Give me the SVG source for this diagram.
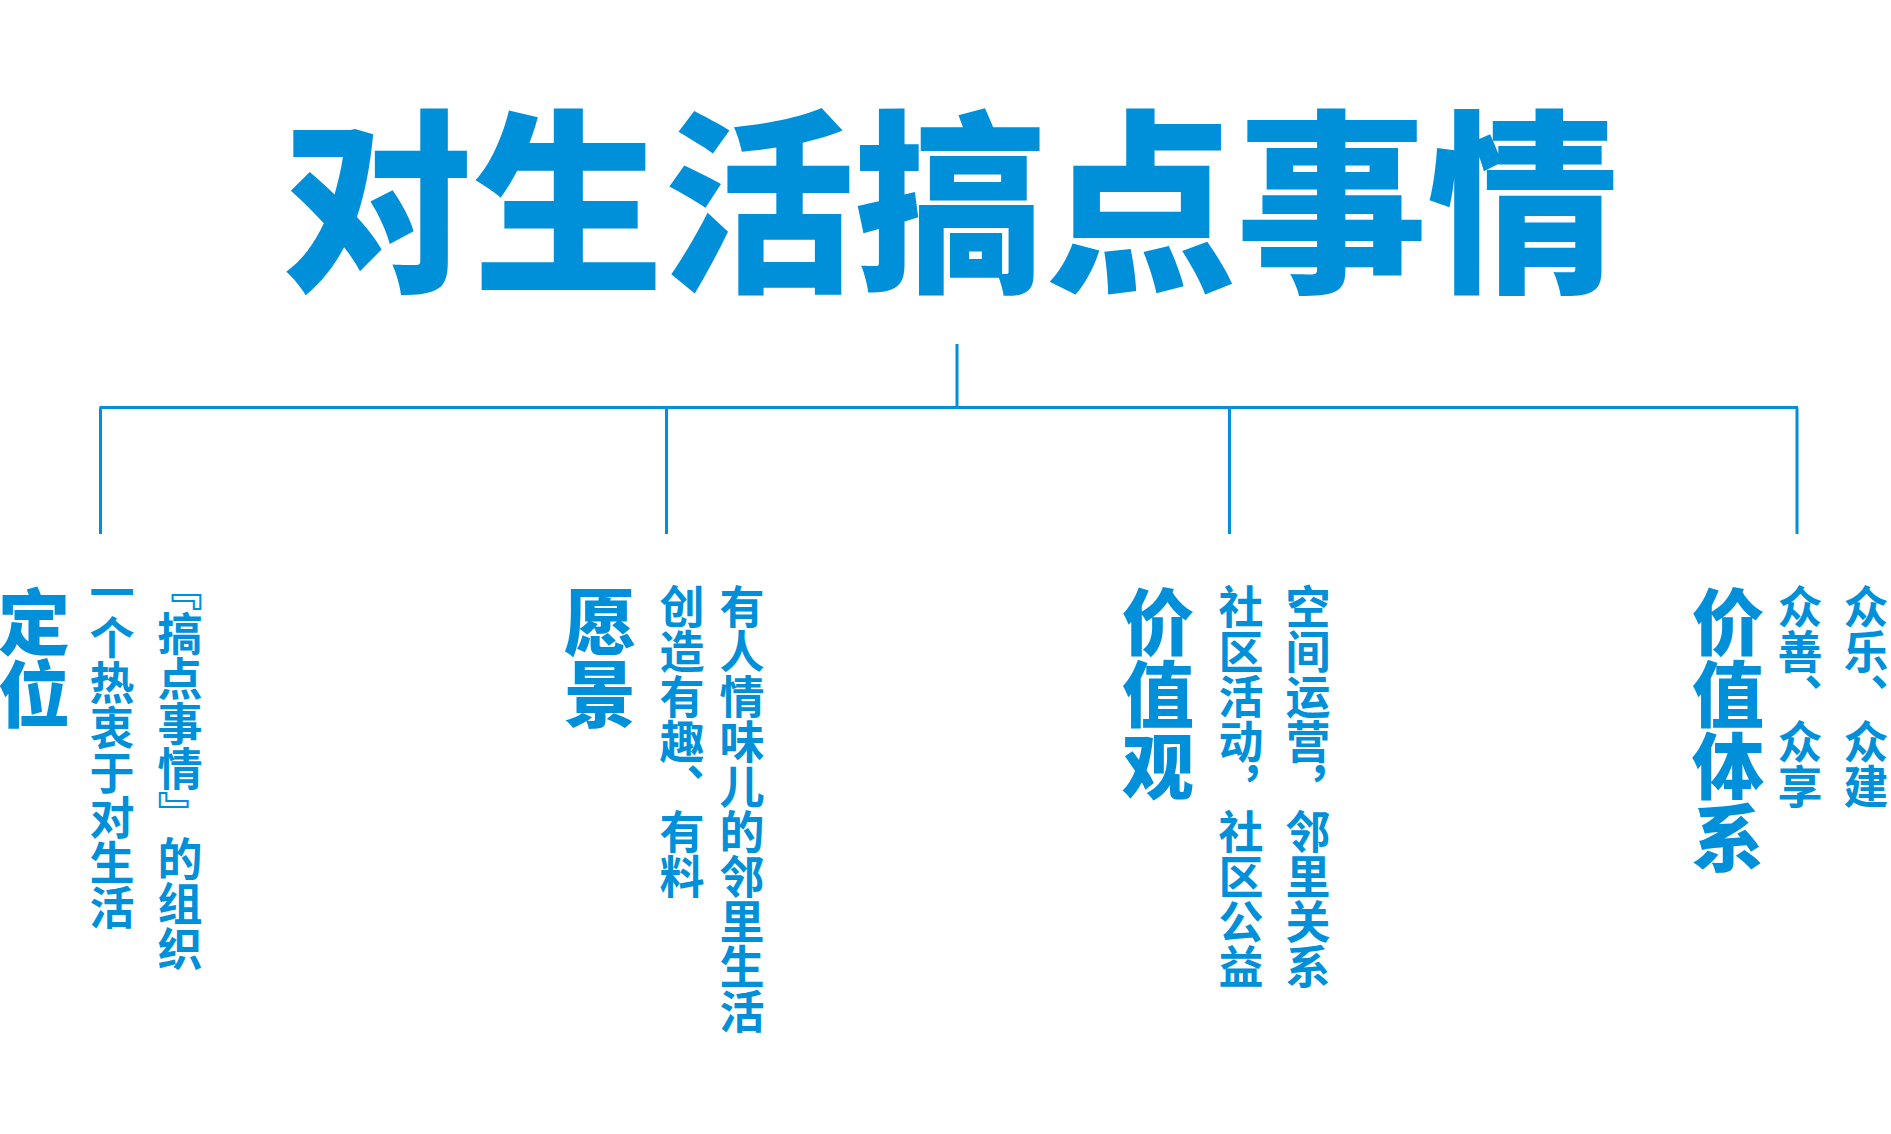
<svg xmlns="http://www.w3.org/2000/svg" width="1891" height="1134" viewBox="0 0 1891 1134">
<style>
.t{fill:#0090da;font-family:"Noto Sans CJK SC","Noto Sans CJK JP",sans-serif}
.h{font-size:72px;font-weight:900}
.b{font-size:45px;font-weight:700}
.v{writing-mode:vertical-rl}
.ln{stroke:#0090da;stroke-width:3;fill:none}
</style>
<rect width="1891" height="1134" fill="#ffffff"/>
<g id="title">
<text class="t" font-size="191" font-weight="900" text-anchor="middle" transform="translate(950,276) scale(1,1.025)">对生活搞点事情</text>
</g>
<g id="connectors">
<path class="ln" d="M957 344V407.5M99.5 407.5H1798M100.5 407.5V534M666.5 407.5V534M1229.5 407.5V534M1797 407.5V534"/>
</g>
<g id="node-dingwei">
<text class="t h v" x="34" y="586">定位</text>
<text class="t b v" x="112" y="570">一个热衷于对生活</text>
<text class="t b v" x="180" y="566">『搞点事情』的组织</text>
</g>
<g id="node-yuanjing">
<text class="t h v" x="600" y="586">愿景</text>
<text class="t b v" x="682" y="584">创造有趣、有料</text>
<text class="t b v" x="742" y="584">有人情味儿的邻里生活</text>
</g>
<g id="node-jiazhiguan">
<text class="t h v" x="1158" y="586">价值观</text>
<text class="t b v" x="1241" y="584">社区活动，社区公益</text>
<text class="t b v" x="1308" y="584">空间运营，邻里关系</text>
</g>
<g id="node-jiazhitixi">
<text class="t h v" x="1728" y="586">价值体系</text>
<text class="t b v" x="1800" y="584">众善、众享</text>
<text class="t b v" x="1866" y="584">众乐、众建</text>
</g>
</svg>
